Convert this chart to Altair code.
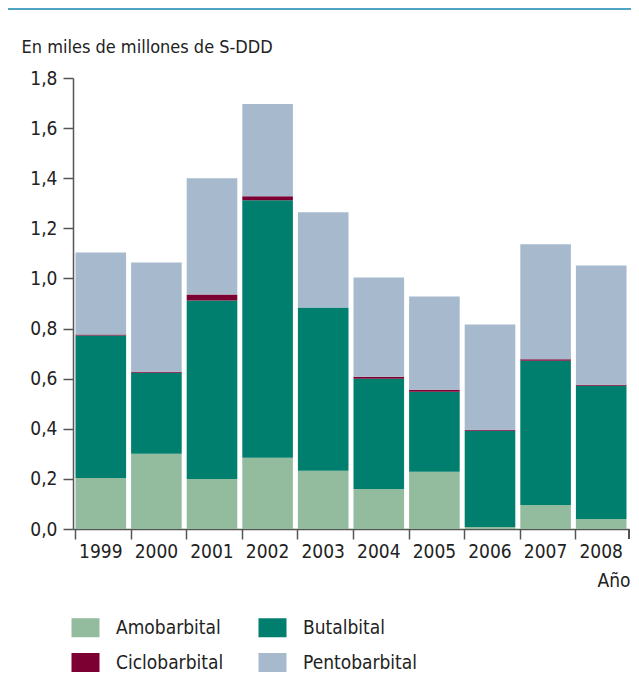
import altair as alt
import pandas as pd

years = ["1999", "2000", "2001", "2002", "2003", "2004", "2005", "2006", "2007", "2008"]
series = ["Amobarbital", "Butalbital", "Ciclobarbital", "Pentobarbital"]
amobarbital = [0.204, 0.300, 0.200, 0.284, 0.232, 0.160, 0.228, 0.008, 0.096, 0.040]
butalbital = [0.568, 0.324, 0.712, 1.028, 0.652, 0.440, 0.320, 0.384, 0.576, 0.532]
ciclobarbital = [0.004, 0.004, 0.024, 0.016, 0.000, 0.008, 0.008, 0.004, 0.005, 0.004]
pentobarbital = [0.328, 0.436, 0.464, 0.368, 0.380, 0.396, 0.372, 0.420, 0.459, 0.476]
colors = ["#93BC9F", "#007E6E", "#7D0033", "#A6B9CD"]
y_ticks = [0.0, 0.2, 0.4, 0.6, 0.8, 1.0, 1.2, 1.4, 1.6, 1.8]

rows = []
for i, y in enumerate(years):
    for k, (name, vals) in enumerate(zip(series, [amobarbital, butalbital, ciclobarbital, pentobarbital])):
        rows.append({"Año": y, "Sustancia": name, "valor": vals[i], "orden": k})
df = pd.DataFrame(rows)

FONT = "Liberation Sans Narrow, DejaVu Sans Condensed, Roboto, sans-serif"
W, H = 556, 451

# rectangular legend swatch (28 x 19)
swatch = "M-1.474,-1H1.474V1H-1.474Z"

bars = alt.Chart(df).mark_bar(stroke=None).encode(
    x=alt.X("Año:N", sort=years,
            scale=alt.Scale(paddingInner=0.09, paddingOuter=0.045),
            axis=alt.Axis(title="Año", labelAngle=0, bandPosition=0,
                          tickSize=10, labelPadding=3, labelFontSize=19,
                          titleX=W + 1, titleY=57, titleAlign="right",
                          titleBaseline="alphabetic", titleFontSize=19,
                          titleFontWeight="normal")),
    y=alt.Y("valor:Q", stack="zero",
            scale=alt.Scale(domain=[0, 1.8], nice=False),
            axis=alt.Axis(title="En miles de millones de S-DDD", values=y_ticks,
                          labelExpr="replace(format(datum.value, '.1f'), '.', ',')",
                          tickSize=10, labelPadding=6, labelFontSize=19, grid=False,
                          titleAngle=0, titleX=-52, titleY=-26, titleAlign="left",
                          titleBaseline="alphabetic", titleFontSize=18,
                          titleFontWeight="normal")),
    color=alt.Color("Sustancia:N", sort=series,
                    scale=alt.Scale(domain=series, range=colors),
                    legend=alt.Legend(title=None, orient="none", legendX=3, legendY=540,
                                      direction="horizontal",
                                      columns=2, symbolType=swatch, symbolSize=361,
                                      symbolStrokeWidth=0, labelOffset=21,
                                      columnPadding=34, rowPadding=15, padding=0,
                                      labelFontSize=19, labelFont=FONT,
                                      labelColor="#222222")),
    order=alt.Order("orden:Q"),
)

end_tick = alt.Chart(df).mark_rule(color="#555555", strokeWidth=1.5).encode(
    x=alt.value(W), y=alt.value(H), y2=alt.value(H + 10)
)

top_line = alt.Chart(df).mark_rule(color="#4FA3C3", strokeWidth=2).encode(
    x=alt.value(-65), x2=alt.value(W + 10), y=alt.value(-69)
)

chart = alt.layer(bars, end_tick, top_line).properties(
    width=W, height=H,
    autosize=alt.AutoSizeParams(type="none"),
    padding={"left": 65, "top": 70, "right": 2, "bottom": 150},
).configure_view(stroke=None).configure_axis(
    domainColor="#555555", tickColor="#555555", domainWidth=1.5, tickWidth=1.5,
    labelColor="#222222", titleColor="#222222", labelFont=FONT, titleFont=FONT,
).configure_legend(labelLimit=0)

chart.save("out.html", embed_options={"renderer": "svg", "actions": False})
